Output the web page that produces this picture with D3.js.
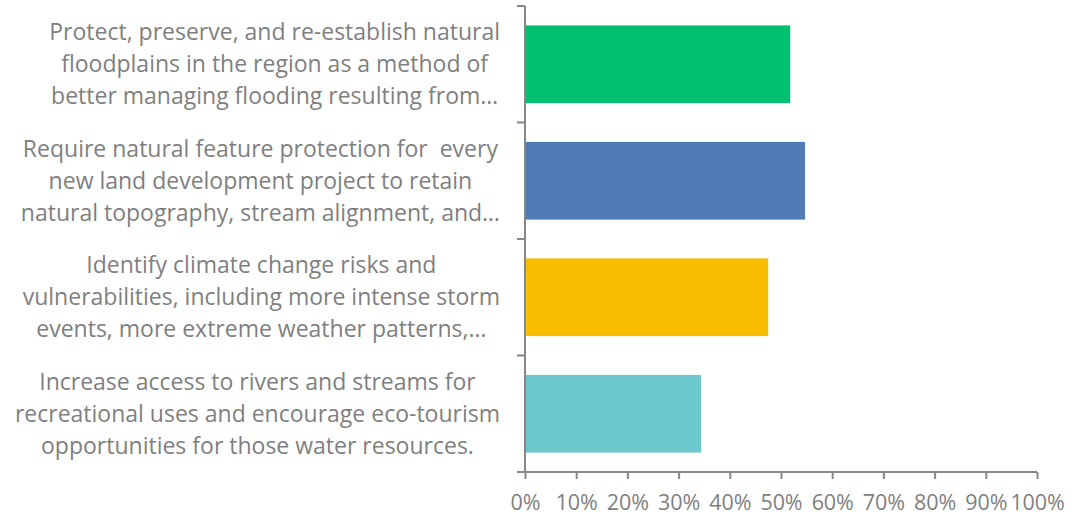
<!DOCTYPE html>
<html><head><meta charset="utf-8">
<script src="https://cdn.jsdelivr.net/npm/d3@7"></script>
<style>html,body{margin:0;padding:0;background:#fff;}svg{display:block;}text{white-space:pre;}</style>
</head><body>
<svg id="chart" width="1072" height="517"></svg>
<script>
const categories = [
  ["Protect, preserve, and re-establish natural","floodplains in the region as a method of","better managing flooding resulting from…"],
  ["Require natural feature protection for  every","new land development project to retain","natural topography, stream alignment, and…"],
  ["Identify climate change risks and","vulnerabilities, including more intense storm","events, more extreme weather patterns,…"],
  ["Increase access to rivers and streams for","recreational uses and encourage eco-tourism","opportunities for those water resources."]
];
const values = [0.518, 0.547, 0.475, 0.344];
const colors = ["#00bf6f", "#507cb6", "#f9be00", "#6bc8cd"];
const tickValues = [0,0.1,0.2,0.3,0.4,0.5,0.6,0.7,0.8,0.9,1.0];

(function(){
const svg = d3.select("#chart");
const pL = 525, pR = 1037, pT = 6, pB = 472;
const axisColor = "#878787", textColor = "#7f7f7f";
const font = "'Open Sans', sans-serif";

const x = d3.scaleLinear().domain([0,1]).range([pL,pR]);
const y = d3.scaleBand().domain(d3.range(categories.length)).range([pT,pB]).paddingInner(0.333).paddingOuter(0.1667);

svg.selectAll("rect.bar").data(values).join("rect")
  .attr("class","bar")
  .attr("x", x(0)).attr("y",(d,i)=>y(i))
  .attr("width", d=>x(d)-x(0)).attr("height", y.bandwidth())
  .attr("fill",(d,i)=>colors[i]);

const xAxis = d3.axisBottom(x).tickValues(tickValues).tickFormat(d3.format(".0%")).tickSize(7).tickSizeOuter(0);
const gx = svg.append("g").attr("transform",`translate(0,${pB})`).call(xAxis);
gx.select(".domain").attr("stroke",axisColor).attr("stroke-width",2).attr("d",`M${pL-8},0H${pR}`);
gx.selectAll(".tick line").attr("stroke",axisColor).attr("stroke-width",2);
gx.selectAll(".tick text").attr("fill",textColor).style("font-family",font).style("font-size","21.5px")
  .style("letter-spacing","-0.1px")
  .attr("y",30).attr("dy","0.35em");

const step = (pB-pT)/categories.length;
svg.append("line").attr("x1",pL).attr("x2",pL).attr("y1",pT).attr("y2",pB)
  .attr("stroke",axisColor).attr("stroke-width",2);
svg.selectAll("line.yt").data(d3.range(categories.length)).join("line")
  .attr("class","yt").attr("x1",pL-8).attr("x2",pL)
  .attr("y1",i=>pT+i*step).attr("y2",i=>pT+i*step)
  .attr("stroke",axisColor).attr("stroke-width",2);

const lineH = 32, fs = 23;
categories.forEach((lines,i)=>{
  const cy = y(i)+y.bandwidth()/2;
  const g = svg.append("g");
  const texts = g.selectAll("text").data(lines).join("text")
    .attr("y",(d,j)=>cy + (j-1)*lineH)
    .attr("dy","0.35em")
    .attr("text-anchor","middle")
    .attr("fill",textColor)
    .style("font-family",font).style("font-size",fs+"px")
    .text(d=>d);
  let maxW = 0;
  texts.each(function(){ maxW = Math.max(maxW, this.getComputedTextLength()); });
  texts.attr("x", 500 - maxW/2);
});
})();
</script>
</body></html>
